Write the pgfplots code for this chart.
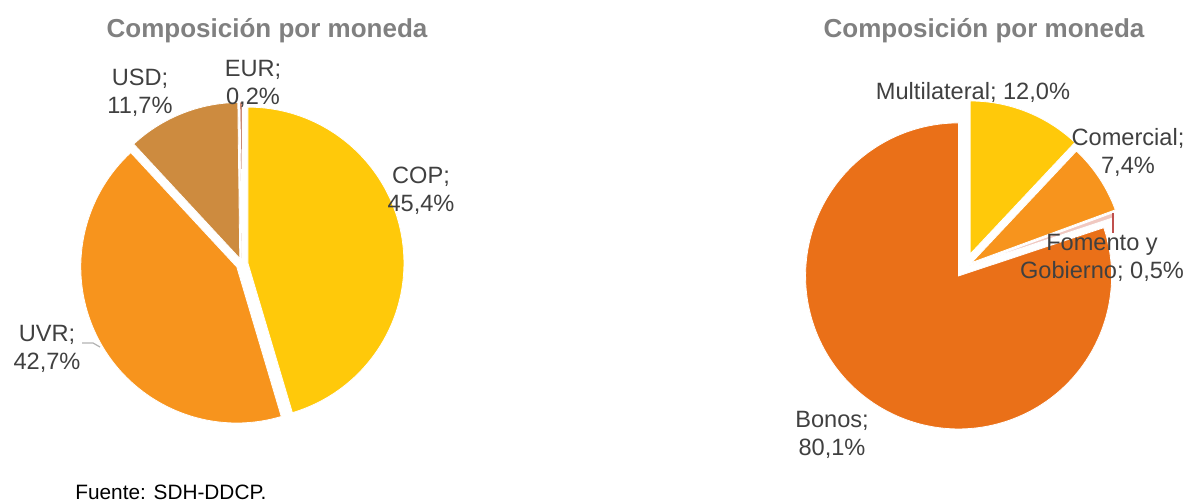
\documentclass[border=0pt]{standalone}
\usepackage{fontspec}
\setmainfont{Liberation Sans}
\usepackage{pgfplots}
\usepackage{pgfplotstable}
\pgfplotsset{compat=1.18}

\definecolor{cYellow}{HTML}{FFC90A}
\definecolor{cOrange}{HTML}{F7941D}
\definecolor{cTan}{HTML}{CD8B3F}
\definecolor{cEur}{HTML}{B04A2A}
\definecolor{cBonos}{HTML}{EA7018}
\definecolor{cFomento}{HTML}{F0C8C0}
\definecolor{cLeader}{HTML}{C0504D}
\definecolor{txt}{HTML}{404040}
\definecolor{ttl}{HTML}{808080}

% slices in clockwise order from 12 o'clock; explode in px
\pgfplotstableread{
label value explode color
COP 45.4 6 cYellow
UVR 42.7 6 cOrange
USD 11.7 6 cTan
EUR 0.2 6 cEur
}\leftpie

\pgfplotstableread{
label value explode color
Multilateral 12.0 14 cYellow
Comercial 7.4 8 cOrange
Fomento 0.5 5 cFomento
Bonos 80.1 11 cBonos
}\rightpie

% #1 table, #2 cx, #3 cy, #4 radius (px, 1px = 0.5pt)
\newcommand\drawpie[4]{%
  \pgfplotstablegetrowsof{#1}%
  \pgfmathtruncatemacro\lastrow{\pgfplotsretval-1}%
  \def\angA{90}%
  \pgfplotsforeachungrouped \i in {0,...,\lastrow}{%
    \pgfplotstablegetelem{\i}{value}\of#1\let\val\pgfplotsretval
    \pgfplotstablegetelem{\i}{explode}\of#1\let\ex\pgfplotsretval
    \pgfplotstablegetelem{\i}{color}\of#1\let\col\pgfplotsretval
    \pgfmathsetmacro\angB{\angA-3.6*\val}%
    \pgfmathsetmacro\angM{(\angA+\angB)/2}%
    \edef\slice{\noexpand\fill[\col, draw=white, line width=0.4pt]
      (axis cs:#2,#3) ++(\angM:\ex*0.5pt) -- ++(\angA:#4*0.5pt)
      arc[start angle=\angA, end angle=\angB, radius=#4*0.5pt] -- cycle;}%
    \slice
    \let\angA\angB
  }%
}

\tikzset{lbl/.style={text=txt, inner sep=0pt, align=center,
  font=\fontsize{11.8}{14}\selectfont}}
\tikzset{ttlstyle/.style={text=ttl, inner sep=0pt,
  font=\fontsize{13}{15}\selectfont\bfseries}}

\begin{document}
\begin{tikzpicture}
\begin{axis}[
    x=0.5pt, y=0.5pt, y dir=reverse,
    xmin=0, xmax=1188, ymin=0, ymax=502,
    hide axis, clip=false
]
\drawpie{\leftpie}{242}{264}{156}
\drawpie{\rightpie}{965}{267}{153}

% leader lines
\draw[gray!60, line width=0.6pt] (axis cs:82,343) -- (axis cs:93,343) -- (axis cs:100,347);
\draw[cLeader, line width=0.6pt] (axis cs:1113,213) -- (axis cs:1113,233);

% titles
\node[ttlstyle] at (axis cs:267,31) {Composición por moneda};
\node[ttlstyle] at (axis cs:984,31) {Composición por moneda};

% data labels
\node[lbl] at (axis cs:140,92.5) {USD;\\11,7\%};
\node[lbl] at (axis cs:253,84) {EUR;\\0,2\%};
\node[lbl] at (axis cs:421,191) {COP;\\45,4\%};
\node[lbl] at (axis cs:47,349) {UVR;\\42,7\%};
\node[lbl] at (axis cs:973,92) {Multilateral; 12,0\%};
\node[lbl] at (axis cs:1128,152) {Comercial;\\7,4\%};
\node[lbl] at (axis cs:1102,258) {Fomento y\\Gobierno; 0,5\%};
\node[lbl] at (axis cs:832,435) {Bonos;\\80,1\%};

\node[lbl, anchor=west, font=\fontsize{10.4}{12}\selectfont, text=black] at (axis cs:75,492) {Fuente: SDH-DDCP.};

\coordinate (TL) at (rel axis cs:0,1);
\coordinate (BR) at (rel axis cs:1,0);
\end{axis}
\pgfresetboundingbox
\path (TL) rectangle (BR);
\end{tikzpicture}
\end{document}
